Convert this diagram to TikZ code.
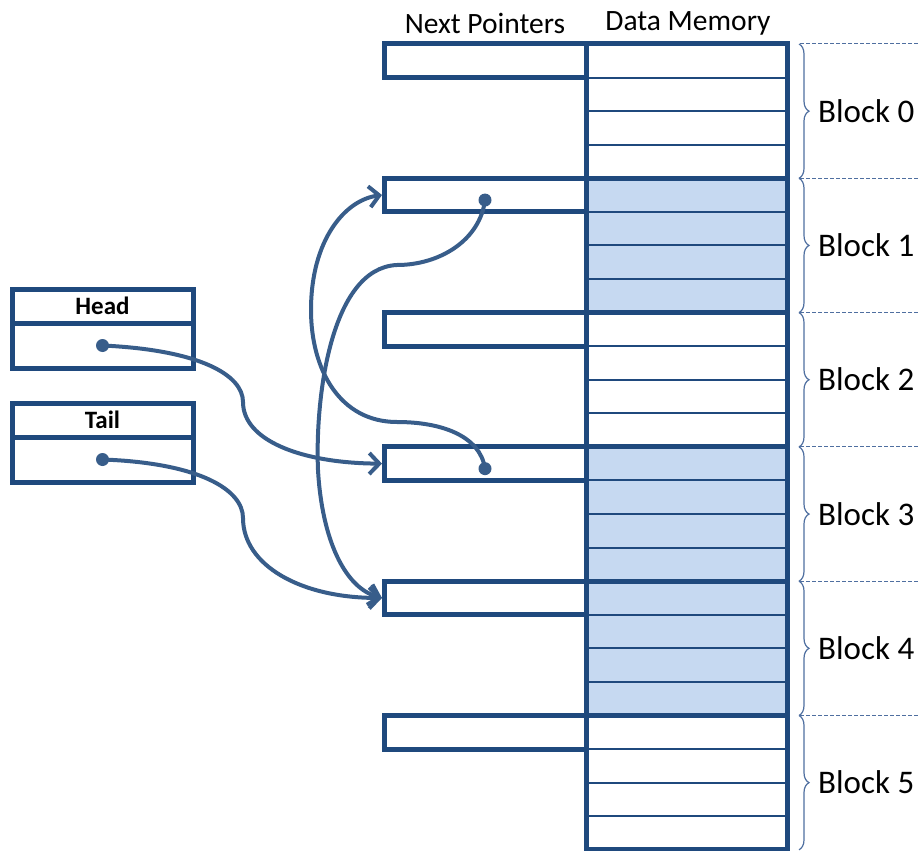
\documentclass[tikz,border=0pt]{standalone}
\usepackage{fontspec}
\setmainfont{Carlito}
\usetikzlibrary{arrows.meta, decorations.pathreplacing}
\definecolor{linecol}{RGB}{31,73,125}
\definecolor{linkcol}{RGB}{56,93,138}
\definecolor{shadecol}{RGB}{198,217,241}
\definecolor{bracecol}{RGB}{79,111,160}

\begin{document}
\begin{tikzpicture}[
    x=1pt, y=-1pt,
    cell/.style={draw=linecol, line width=5pt, inner sep=0pt, outer sep=0pt},
    ptrcell/.style={cell, fill=white, minimum width=202pt, minimum height=33.5pt, anchor=north west},
    datacell/.style={cell, minimum width=201pt, minimum height=134.3pt, anchor=north west},
    listtitle/.style={cell, minimum width=181pt, minimum height=34pt, anchor=north west,
        font=\fontsize{25}{28}\selectfont\bfseries},
    listbody/.style={cell, minimum width=181pt, minimum height=45pt, anchor=north},
    rowline/.style={draw=linecol, line width=2pt},
    guide/.style={draw=bracecol, line width=1pt, dash pattern=on 4pt off 2pt},
    brace/.style={draw=bracecol, line width=1.2pt, decorate,
        decoration={brace, amplitude=10pt, aspect=0.5}},
    blocklabel/.style={anchor=west, inner sep=0pt, font=\fontsize{33}{38}\selectfont},
    colhead/.style={inner sep=0pt, font=\fontsize{29.5}{34}\selectfont},
    dot/.style={circle, fill=linkcol, inner sep=0pt, minimum size=13pt},
    link/.style={draw=linkcol, line width=4pt,
        -{Straight Barb[length=10pt, width=21pt]}}
]
\useasboundingbox (0,0) rectangle (919,851);

% Column headings
\node[colhead] (nexthead) at (485,23) {Next Pointers};
\node[colhead] (datahead) at (688,23) {Data Memory};

% Dashed block boundaries
\foreach \i in {0,...,5}
    \draw[guide] (800,44+134.3*\i) -- (919,44+134.3*\i);

% Memory blocks: data rows and next pointer cell
\foreach \i/\col in {0/white, 1/shadecol, 2/white, 3/shadecol, 4/shadecol, 5/white} {
    \node[datacell, fill=\col] (blk\i) at (586,44+134.3*\i) {};
    \foreach \r in {1,2,3}
        \draw[rowline] (586,44+134.3*\i+33.575*\r) -- (787,44+134.3*\i+33.575*\r);
    \node[datacell] at (586,44+134.3*\i) {};
    \node[ptrcell] (ptr\i) at (384,44+134.3*\i) {};
    \draw[brace] (799,44+134.3*\i) -- (799,44+134.3*\i+134.3);
    \node[blocklabel] (lbl\i) at (818,44+134.3*\i+67) {Block \i};
}

% Head and Tail
\node[listtitle] (headtitle) at (12,289) {Head};
\node[listbody] (headbody) at (headtitle.south) {};
\node[listtitle] (tailtitle) at (12,403) {Tail};
\node[listbody] (tailbody) at (tailtitle.south) {};

% Pointer dots
\node[dot] (headdot) at (headbody.center) {};
\node[dot] (taildot) at (tailbody.center) {};
\node[dot] (next1) at ([yshift=-5pt]ptr1.center) {};
\node[dot] (next3) at ([yshift=-5pt]ptr3.center) {};

% Links
\draw[link] (headdot.center) .. controls (200,350) and (243,375) .. (243,402)
    .. controls (243,440) and (300,463) .. ([xshift=-2pt]ptr3.west);
\draw[link] (taildot.center) .. controls (200,463) and (243,490) .. (243,518)
    .. controls (243,565) and (300,598) .. ([xshift=-2pt]ptr4.west);
\draw[link] (next3.center) .. controls (480,435) and (440,422) .. (397,422)
    .. controls (340,422) and (311,370) .. (311,310)
    .. controls (311,240) and (345,200) .. ([xshift=-2pt]ptr1.west);
\draw[link] (next1.center) .. controls (480,240) and (440,265) .. (397,265)
    .. controls (330,268) and (315,400) .. (318,470)
    .. controls (322,540) and (345,588) .. ([xshift=-2pt]ptr4.west);

\end{tikzpicture}
\end{document}
